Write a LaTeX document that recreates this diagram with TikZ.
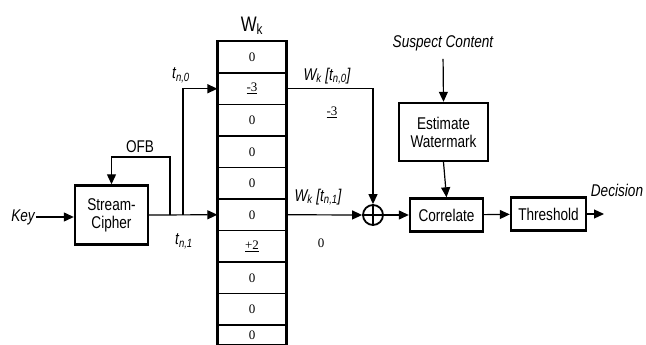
\documentclass[tikz,border=0pt]{standalone}
\usepackage{fontspec}
\setmainfont{Liberation Sans}[FakeStretch=0.8]
\newfontfamily\cellfont{Liberation Serif}
\usetikzlibrary{arrows.meta,positioning}

\begin{document}
\begin{tikzpicture}[x=1pt,y=-1pt,
  blk/.style={draw,line width=2.4pt,align=center,inner sep=1pt,font=\fontsize{17}{18}\selectfont},
  cell/.style={draw,line width=1.2pt,minimum width=68pt,minimum height=31.5pt,inner sep=0pt,font=\cellfont\fontsize{13}{13}\selectfont},
  lbl/.style={font=\fontsize{17}{18}\selectfont\itshape,inner sep=1pt},
  num/.style={font=\cellfont\fontsize{13}{13}\selectfont,inner sep=1pt},
  wire/.style={line width=1.2pt},
  arr/.style={wire,-{Triangle[length=10pt,width=9pt]}}]
  \useasboundingbox (0,0) rectangle (646,345);
  \clip (0,0) rectangle (646,345);
  % key and stream cipher with feedback
  \node[blk,minimum width=73pt,minimum height=59pt] (cipher) at (111.5,215) {Stream-\\Cipher};
  \node[lbl] (key) at (23,217) {Key};
  \draw[arr] (key.east) -- (key.east -| cipher.west);
  \node[font=\fontsize{17}{18}\selectfont,inner sep=1pt] (ofb) at (140,147) {OFB};
  % watermark table, last row cut by the page edge
  \foreach \v [count=\i] in {0,{\underline{-3}},0,0,0,0,{\underline{+2}},0,0}
    \node[cell] (c\i) at (252,{41.5+(\i-0.5)*31.5}) {\v};
  \node[cell,minimum height=20pt] (c10) at (252,335) {0};
  \draw[line width=2.6pt] (c10.south west) -- (c1.north west) -- (c1.north east) -- (c10.south east);
  \node[font=\fontsize{21}{22}\selectfont,inner sep=1pt] (wk) at (252,26) {W\textsubscript{k}};
  % index lines
  \coordinate (fb) at (170,215);
  \coordinate (br) at (183,215);
  \draw[arr] (cipher.east) -- (c6.west);
  \draw[arr] (fb) -- ++(0,-58) -| (cipher.north);
  \draw[arr] (br) |- (c2.west);
  \node[lbl] (t0) at (181,75) {t\textsubscript{n,0}};
  \node[lbl] (t1) at (184,241) {t\textsubscript{n,1}};
  % detector side
  \node[draw,circle,line width=1.8pt,minimum size=20pt,inner sep=0pt] (sum) at (373,215) {};
  \draw[line width=1.8pt] (sum.north) -- (sum.south) (sum.west) -- (sum.east);
  \draw[arr] (c2.east) -| (sum.north);
  \draw[arr] (c6.east) -- (sum.west);
  \node[lbl] (w0) at (327,76) {W\textsubscript{k} [t\textsubscript{n,0}]};
  \node[num] (v0) at (332,112) {\underline{-3}};
  \node[lbl] (w1) at (318,197) {W\textsubscript{k} [t\textsubscript{n,1}]};
  \node[num] (v1) at (321,243) {0};
  \node[blk,minimum width=73pt,minimum height=33pt] (corr) at (446.5,215) {Correlate};
  \node[blk,minimum width=75pt,minimum height=33pt] (thr) at (548.5,214) {Threshold};
  \node[blk,minimum width=89pt,minimum height=58pt] (est) at (443.5,132) {Estimate\\Watermark};
  \node[lbl] (sus) at (443,43) {Suspect Content};
  \node[lbl] (dec) at (617,190) {Decision};
  \coordinate (out) at (604,214);
  \draw[arr] (sum) -- (corr);
  \draw[arr] (corr) -- (thr);
  \draw[arr] (thr.east) -- (out);
  \draw[arr,shorten <=7pt] (sus.south) -- (est.north);
  \draw[arr] (est.south) -- (corr.north);
\end{tikzpicture}
\end{document}
